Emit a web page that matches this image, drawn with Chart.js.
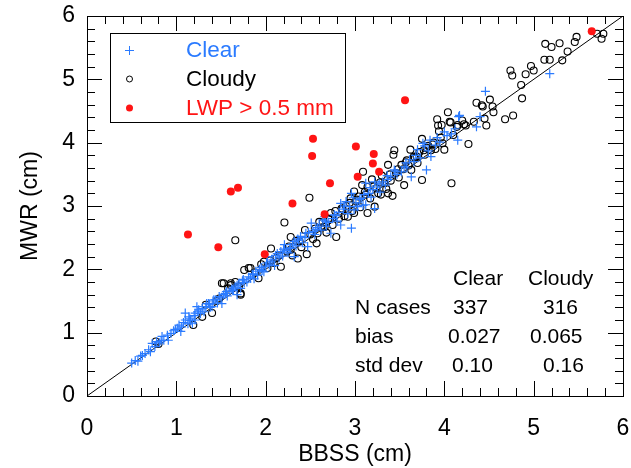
<!DOCTYPE html>
<html>
<head>
<meta charset="utf-8">
<script src="https://cdn.jsdelivr.net/npm/chart.js@4.4.1/dist/chart.umd.min.js"></script>
<style>
html, body { margin: 0; padding: 0; background: #fff; }
#wrap { width: 631px; height: 468px; }
</style>
</head>
<body>
<div id="wrap"><canvas id="scatterChart" width="631" height="468"></canvas></div>
<script>
//-------------
//- DATA (cm)
//-------------
var clearX = [0.50,0.54,0.57,0.62,0.65,0.69,0.71,0.73,0.76,0.78,0.81,0.84,0.86,0.90,0.91,0.94,0.97,1.01,1.03,1.05,
  1.06,1.08,1.10,1.10,1.13,1.14,1.16,1.18,1.20,1.21,1.21,1.23,1.25,1.27,1.29,1.31,1.33,1.34,1.36,1.38,
  1.40,1.41,1.44,1.46,1.48,1.50,1.51,1.53,1.55,1.57,1.60,1.63,1.64,1.66,1.68,1.68,1.70,1.72,1.74,1.76,
  1.79,1.81,1.83,1.85,1.87,1.89,1.91,1.93,1.96,1.98,2.00,2.02,2.04,2.06,2.08,2.10,2.13,2.15,2.17,2.19,
  2.21,2.23,2.25,2.28,2.30,2.32,2.32,2.34,2.37,2.39,2.41,2.44,2.47,2.48,2.51,2.53,2.55,2.58,2.60,2.62,
  2.64,2.66,2.68,2.70,2.73,2.75,2.77,2.80,2.82,2.84,2.84,2.87,2.90,2.92,2.94,2.96,2.96,2.99,3.01,3.03,
  3.05,3.07,3.09,3.12,3.12,3.15,3.18,3.20,3.22,3.22,3.25,3.28,3.31,3.34,3.37,3.40,3.44,3.47,3.52,3.55,
  3.58,3.61,3.63,3.66,3.70,3.73,3.76,3.80,3.82,3.84,3.85,3.90,3.95,4.03,4.08,4.15,4.16,4.17,4.36,4.40,
  4.46,5.18,
  0.60,0.83,0.99,1.15,1.24,1.37,1.42,1.56,1.62,1.75,1.86,1.95,2.01,2.11,2.20,2.27,2.36,2.45,2.56,2.67,
  2.79,2.88,2.98,3.10,3.17,3.27,3.36,3.45,3.57,3.68,3.78,3.92,4.00,4.12];
var clearY = [0.52,0.56,0.55,0.64,0.67,0.73,0.70,0.83,0.78,0.86,0.84,0.94,0.88,0.96,0.88,0.99,1.03,1.07,1.12,1.02,
  1.09,1.16,1.20,1.31,1.14,1.25,1.19,1.15,1.27,1.31,1.20,1.41,1.36,1.30,1.38,1.33,1.41,1.46,1.46,1.40,
  1.41,1.50,1.52,1.47,1.57,1.55,1.46,1.60,1.62,1.58,1.66,1.67,1.67,1.72,1.75,1.60,1.78,1.70,1.82,1.79,
  1.80,1.88,1.86,1.92,1.85,1.97,1.91,2.00,1.98,1.96,2.05,2.20,2.07,2.12,2.15,2.06,2.25,2.18,2.28,2.21,
  2.39,2.30,2.26,2.34,2.40,2.44,2.20,2.37,2.46,2.52,2.42,2.50,2.36,2.58,2.73,2.60,2.55,2.66,2.70,2.62,
  2.78,2.83,2.68,2.74,2.57,2.80,2.86,2.76,2.90,2.70,3.04,2.95,3.07,2.88,2.99,2.65,3.20,2.94,3.05,2.99,
  3.10,3.12,3.01,3.02,3.36,3.20,3.14,3.26,2.96,3.38,3.30,3.22,3.38,3.33,3.42,3.46,3.57,3.50,3.54,3.62,
  3.60,3.73,3.46,3.70,3.89,3.76,3.99,3.57,3.87,4.04,3.78,3.96,4.01,4.11,4.14,4.04,4.41,4.43,4.25,4.41,
  4.81,5.09,
  0.63,0.87,1.05,1.22,1.33,1.45,1.52,1.65,1.69,1.84,1.93,2.03,2.10,2.22,2.32,2.33,2.48,2.57,2.63,2.76,
  2.85,3.00,3.13,3.18,3.29,3.35,3.48,3.55,3.68,3.80,3.95,4.08,4.17,4.22];

var cloudyX = [0.77,0.80,1.19,1.29,1.33,1.40,1.45,1.48,1.51,1.53,1.58,1.61,1.61,1.66,1.66,1.70,1.72,1.72,1.76,1.81,
  1.83,1.88,1.92,1.95,1.98,2.02,2.06,2.09,2.12,2.17,2.21,2.24,2.28,2.28,2.30,2.34,2.36,2.40,2.44,2.46,
  2.49,2.50,2.53,2.57,2.58,2.60,2.62,2.66,2.68,2.70,2.73,2.75,2.78,2.79,2.82,2.85,2.88,2.90,2.92,2.95,
  2.97,2.99,2.99,3.01,3.04,3.06,3.08,3.09,3.11,3.14,3.14,3.17,3.19,3.22,3.24,3.26,3.29,3.30,3.33,3.35,
  3.37,3.37,3.40,3.42,3.43,3.44,3.46,3.49,3.52,3.54,3.55,3.58,3.60,3.62,3.63,3.66,3.69,3.70,3.72,3.75,
  3.75,3.78,3.80,3.82,3.85,3.88,3.90,3.92,3.93,3.94,3.97,3.98,4.00,4.04,4.06,4.07,4.08,4.10,4.14,4.15,
  4.20,4.22,4.24,4.27,4.33,4.36,4.42,4.43,4.45,4.47,4.51,4.54,4.55,4.68,4.74,4.76,4.77,4.86,4.87,4.91,
  4.97,5.00,5.12,5.13,5.18,5.20,5.29,5.32,5.38,5.46,5.48,5.71,5.76,5.78,
  2.05,2.15,2.26,2.38,2.55,2.64,2.72,2.86,2.94,3.02,3.12,3.21,3.28,3.39,3.48,3.57,3.67,3.77,3.87,3.96];
var cloudyY = [0.86,0.82,1.12,1.25,1.44,1.31,1.50,1.54,1.78,1.78,1.70,1.75,1.78,1.80,2.46,1.73,1.62,1.60,1.99,2.02,
  2.02,1.95,1.86,2.08,2.12,2.02,2.33,2.10,2.18,2.04,2.74,2.28,2.31,2.51,2.22,2.45,2.17,2.35,2.62,2.24,
  3.13,2.55,2.48,2.41,2.57,2.75,2.66,2.67,2.58,2.80,2.89,2.70,2.92,2.51,2.80,2.96,2.84,3.00,2.83,3.12,
  2.92,2.89,3.23,3.08,3.15,2.98,3.33,3.54,3.22,2.89,3.30,3.12,3.42,2.99,3.28,3.20,3.18,3.48,3.36,3.27,
  3.20,3.65,3.40,3.16,3.81,3.88,3.52,3.45,3.65,3.58,3.33,3.72,3.64,3.89,3.57,3.78,3.78,3.68,3.85,3.41,
  4.06,3.81,3.92,3.95,3.88,4.00,3.90,4.37,4.27,4.18,4.28,3.99,3.89,4.48,4.33,4.32,3.36,4.12,4.25,4.28,
  4.35,4.29,4.27,3.98,4.33,4.63,4.59,4.57,4.38,4.27,4.68,4.57,4.48,4.37,5.14,5.06,4.43,4.91,4.70,5.08,
  5.21,5.14,5.31,5.56,5.31,5.51,5.57,5.30,5.44,5.59,5.67,5.72,5.64,5.72,
  2.14,2.22,2.36,2.44,2.64,2.74,2.79,2.95,3.05,3.10,3.18,3.31,3.37,3.50,3.58,3.69,3.76,3.88,3.97,4.08];

var lwpX = [1.13,1.47,1.61,1.69,1.99,2.30,2.52,2.53,2.66,2.72,3.01,3.03,3.20,3.21,3.27,3.56,5.65];
var lwpY = [2.55,2.35,3.23,3.29,2.24,3.04,3.79,4.06,2.87,3.36,3.94,3.46,3.67,3.82,3.54,4.67,5.76];

var oneToOne = [0, 6];

var legendLabels = ["Clear", "Cloudy", "LWP > 0.5 mm"];
var statRows = ["N cases", "bias", "std dev"];
var statClear = ["337", "0.027", "0.10"];
var statCloudy = ["316", "0.065", "0.16"];

var COLOR_CLEAR = "#2b7bff";
var COLOR_LWP = "#ff1414";
var FONT = '"Liberation Sans", Arial, sans-serif';

function toPoints(xs, ys) {
    var pts = [];
    for (var i = 0; i < xs.length; i++) {
        pts.push({ x: xs[i], y: ys[i] });
    }
    return pts;
}

// box + inward ticks on all four sides, legend and stats table
var frameTicks = {
    id: 'frameTicks',
    afterDraw: function (chart) {
        var ctx = chart.ctx, a = chart.chartArea;
        var xs = chart.scales.x, ys = chart.scales.y;
        ctx.save();
        ctx.strokeStyle = "#000";
        ctx.lineWidth = 1;
        ctx.strokeRect(a.left + 0.5, a.top + 0.5, a.right - a.left, a.bottom - a.top);
        ctx.beginPath();
        for (var i = 0; i <= 30; i++) {
            var v = i / 5;
            var len = (i % 5 == 0) ? 15 : 8;
            var px = Math.round(xs.getPixelForValue(v)) + 0.5;
            ctx.moveTo(px, a.bottom); ctx.lineTo(px, a.bottom - len);
            ctx.moveTo(px, a.top); ctx.lineTo(px, a.top + len);
            var py = Math.round(ys.getPixelForValue(v)) + 0.5;
            ctx.moveTo(a.left, py); ctx.lineTo(a.left + len, py);
            ctx.moveTo(a.right, py); ctx.lineTo(a.right - len, py);
        }
        ctx.stroke();

        //legend
        ctx.fillStyle = "#fff";
        ctx.fillRect(110.5, 33.5, 235, 89);
        ctx.strokeRect(110.5, 33.5, 235, 89);
        ctx.font = "22.5px " + FONT;
        ctx.textBaseline = "middle";
        ctx.textAlign = "left";
        var rowsY = [50, 79, 108];
        var colors = [COLOR_CLEAR, "#000", COLOR_LWP];
        for (var r = 0; r < 3; r++) {
            ctx.fillStyle = colors[r];
            ctx.fillText(legendLabels[r], 186, rowsY[r] + 1);
        }
        ctx.beginPath();
        ctx.strokeStyle = COLOR_CLEAR;
        ctx.moveTo(125, rowsY[0] + 0.5); ctx.lineTo(134, rowsY[0] + 0.5);
        ctx.moveTo(129.5, rowsY[0] - 4); ctx.lineTo(129.5, rowsY[0] + 5);
        ctx.stroke();
        ctx.beginPath();
        ctx.strokeStyle = "#000";
        ctx.arc(129.5, rowsY[1], 3, 0, Math.PI * 2);
        ctx.stroke();
        ctx.beginPath();
        ctx.fillStyle = COLOR_LWP;
        ctx.arc(129.5, rowsY[2], 3.5, 0, Math.PI * 2);
        ctx.fill();

        //stats table
        ctx.fillStyle = "#000";
        ctx.font = "21px " + FONT;
        ctx.textBaseline = "alphabetic";
        ctx.fillText("Clear", 453, 285);
        ctx.fillText("Cloudy", 528, 285);
        var base = [314, 343, 372];
        var clearLeft = [453, 448, 452];
        var cloudyLeft = [543, 530, 543];
        for (var k = 0; k < 3; k++) {
            ctx.fillText(statRows[k], 355, base[k]);
            ctx.fillText(statClear[k], clearLeft[k], base[k]);
            ctx.fillText(statCloudy[k], cloudyLeft[k], base[k]);
        }
        ctx.restore();
    }
};

Chart.defaults.font.family = FONT;
Chart.defaults.color = "#000";

var ctx = document.getElementById("scatterChart").getContext("2d");
var chart = new Chart(ctx, {
    type: 'scatter',
    data: {
        datasets: [
            {
                label: legendLabels[2],
                data: toPoints(lwpX, lwpY),
                pointStyle: 'circle',
                pointRadius: 4,
                pointBorderWidth: 0,
                backgroundColor: COLOR_LWP,
                borderColor: COLOR_LWP
            },
            {
                label: legendLabels[0],
                data: toPoints(clearX, clearY),
                pointStyle: 'cross',
                pointRadius: 4.5,
                pointBorderWidth: 1.2,
                borderColor: COLOR_CLEAR,
                backgroundColor: COLOR_CLEAR
            },
            {
                label: legendLabels[1],
                data: toPoints(cloudyX, cloudyY),
                pointStyle: 'circle',
                pointRadius: 3.5,
                pointBorderWidth: 1.1,
                borderColor: "#000",
                backgroundColor: "rgba(0,0,0,0)"
            },
            {
                label: "1:1",
                data: toPoints(oneToOne, oneToOne),
                showLine: true,
                pointRadius: 0,
                borderColor: "#000",
                borderWidth: 1
            }
        ]
    },
    options: {
        responsive: false,
        animation: false,
        events: [],
        layout: { padding: { top: 16, right: 8, left: 0, bottom: 0 } },
        plugins: {
            legend: { display: false },
            tooltip: { enabled: false }
        },
        scales: {
            x: {
                type: 'linear',
                min: 0, max: 6,
                afterFit: function (scale) {
                    scale.height = 72;
                    scale.paddingLeft = 0;
                    scale.paddingRight = 0;
                },
                grid: { display: false, drawTicks: false },
                border: { display: false },
                ticks: { stepSize: 1, font: { size: 23 }, color: "#000", padding: 19, maxRotation: 0 },
                title: { display: true, text: "BBSS (cm)", font: { size: 23 }, color: "#000", padding: { top: 0, bottom: 0 } }
            },
            y: {
                type: 'linear',
                min: 0, max: 6,
                afterFit: function (scale) {
                    scale.width = 87;
                    scale.paddingTop = 0;
                    scale.paddingBottom = 0;
                },
                grid: { display: false, drawTicks: false },
                border: { display: false },
                ticks: { stepSize: 1, font: { size: 23 }, color: "#000", padding: 12 },
                title: { display: true, text: "MWR (cm)", font: { size: 23 }, color: "#000", padding: { top: 17, bottom: 0 } }
            }
        }
    },
    plugins: [frameTicks]
});
</script>
</body>
</html>
